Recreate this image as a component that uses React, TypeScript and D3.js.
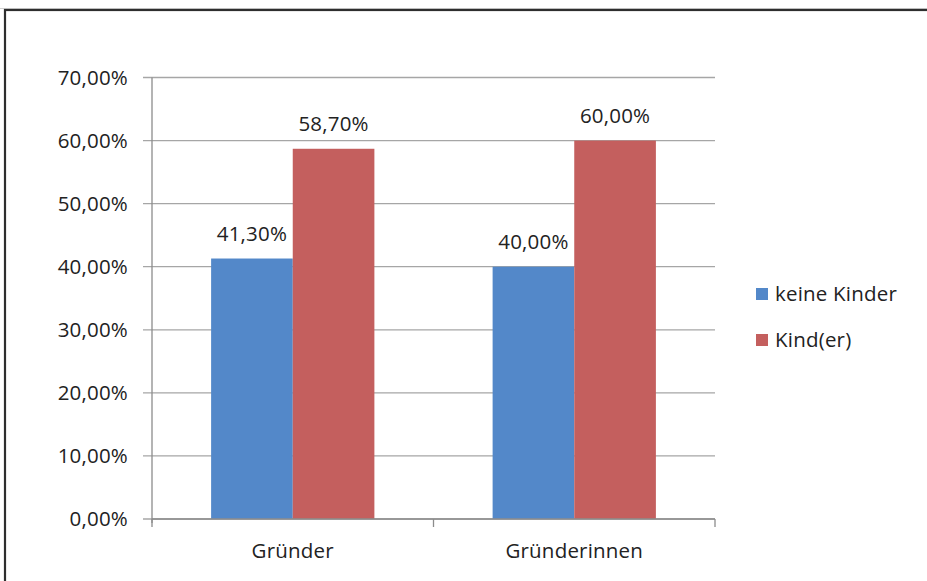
import React from "react";
import * as d3 from "d3";

const categories = ["Gründer", "Gründerinnen"];
const seriesNames = ["keine Kinder", "Kind(er)"];
const keineKinder = [41.3, 40.0];
const kinder = [58.7, 60.0];
const yTicks = [0, 10, 20, 30, 40, 50, 60, 70];
const colors = ["#5388C9", "#C45F5E"];

const W = 927;
const H = 581;
const FONT = "'Open Sans', Lato, sans-serif";
const FS = 20.5;

const fmt = (v: number) => v.toFixed(2).replace(".", ",") + "%";

export default function App() {
  const left = 152, right = 715, top = 77.5, bottom = 519;
  const y = d3.scaleLinear().domain([0, 70]).range([bottom, top]);
  const x0 = d3.scaleBand<string>().domain(categories).range([left, right]).padding(0);
  const bw = x0.bandwidth();
  const x1 = d3.scaleBand<string>().domain(seriesNames).range([bw * 0.21, bw * 0.79]).padding(0);
  const series = [keineKinder, kinder];

  return (
    <svg width={W} height={H} style={{ position: "absolute", left: 0, top: 0, background: "#fff" }} fontFamily={FONT}>
      <rect x={0} y={0} width={W} height={H} fill="#fff" />
      {/* outer frame */}
      <line x1={0} x2={W} y1={8.5} y2={8.5} stroke="#cfcfcf" strokeWidth={1} />
      <rect x={5} y={10} width={W + 20} height={H + 20} fill="none" stroke="#2e2e2e" strokeWidth={2.2} />

      {/* gridlines */}
      {yTicks.map((t) => (
        <line key={"g" + t} x1={left - 9} x2={right} y1={y(t)} y2={y(t)} stroke="#a6a6a6" strokeWidth={1.3} />
      ))}
      {/* y axis */}
      <line x1={left} x2={left} y1={top} y2={bottom + 4} stroke="#8c8c8c" strokeWidth={1.3} />
      {yTicks.map((t) => (
        <text key={"t" + t} x={128} y={y(t)} dy="0.35em" textAnchor="end" fontSize={FS} fill="#222" letterSpacing={0.2}>
          {fmt(t)}
        </text>
      ))}
      {/* bars */}
      {categories.map((c, ci) =>
        seriesNames.map((s, si) => {
          const v = series[si][ci];
          const bx = (x0(c) as number) + (x1(s) as number);
          return (
            <g key={c + s}>
              <rect x={bx} y={y(v)} width={x1.bandwidth()} height={bottom - y(v)} fill={colors[si]} />
              <text x={bx + x1.bandwidth() / 2} y={y(v) - 18} textAnchor="middle" fontSize={FS} fill="#222" letterSpacing={0.2}>
                {fmt(v)}
              </text>
            </g>
          );
        })
      )}
      {/* x axis */}
      <line x1={left} x2={right} y1={bottom} y2={bottom} stroke="#8c8c8c" strokeWidth={1.3} />
      {[left, ...categories.map((c) => (x0(c) as number) + bw)].map((tx, i) => (
        <line key={"xt" + i} x1={tx} x2={tx} y1={bottom} y2={bottom + 8} stroke="#8c8c8c" strokeWidth={1.3} />
      ))}
      {categories.map((c) => (
        <text key={"c" + c} x={(x0(c) as number) + bw / 2} y={558} textAnchor="middle" fontSize={FS} fill="#222" letterSpacing={0.2}>
          {c}
        </text>
      ))}
      {/* legend */}
      {seriesNames.map((s, i) => (
        <g key={"l" + s} transform={`translate(756, ${288 + i * 46})`}>
          <rect x={0} y={0} width={12} height={12} fill={colors[i]} />
          <text x={19} y={12.5} fontSize={FS} fill="#222" letterSpacing={0.2}>
            {s}
          </text>
        </g>
      ))}
    </svg>
  );
}
